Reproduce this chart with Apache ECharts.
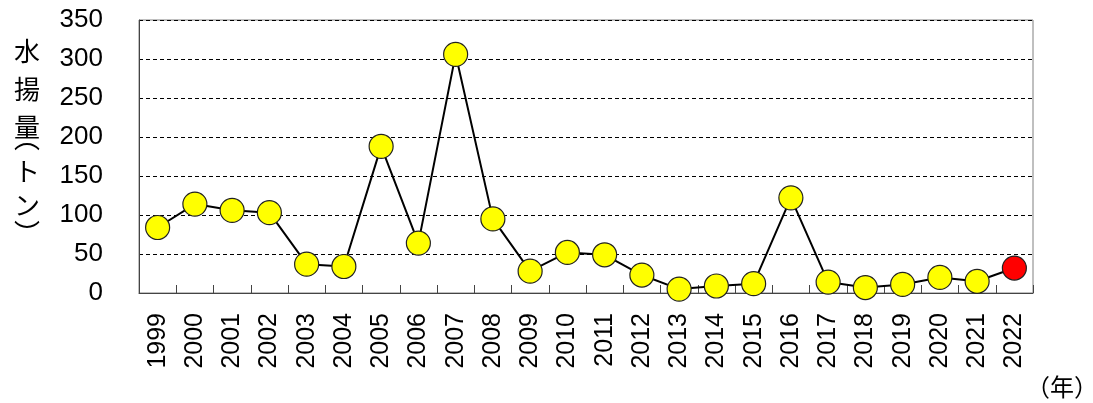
<!DOCTYPE html>
<html>
<head>
<meta charset="utf-8">
<script src="https://cdn.jsdelivr.net/npm/echarts@6/dist/echarts.min.js"></script>
<style>
  html, body { margin: 0; padding: 0; background: #fff; }
  #main { width: 1093px; height: 403px; }
</style>
</head>
<body>
<div id="main"></div>
<script>
// 年別の水揚量（トン）
var years = ['1999', '2000', '2001', '2002', '2003', '2004', '2005', '2006', '2007', '2008',
  '2009', '2010', '2011', '2012', '2013', '2014', '2015', '2016', '2017', '2018',
  '2019', '2020', '2021', '2022'];
var catch_t = [84, 114, 106, 103, 37, 34, 188, 64, 306, 95,
  28, 52, 49, 23, 5, 9, 12, 122, 14, 7,
  11, 20, 15, 32];
var yTicks = [0, 50, 100, 150, 200, 250, 300, 350];
var yName = ['水', '揚', '量', '︵', 'ト', 'ン', '︶'];

var font = '"Liberation Sans", Arial, "Noto Sans CJK JP", sans-serif';
var cjk = '"Noto Sans CJK JP", sans-serif';
var last = years.length - 1;

var myChart = echarts.init(document.getElementById('main'));

// 縦書きの軸名（縦書き用の括弧はグリフが上下にずれているので補正）
var nameY = [51, 89, 127, 138, 171, 205, 233];
var nameTexts = yName.map(function (ch, i) {
  return {
    type: 'text',
    x: 27,
    y: nameY[i],
    style: {
      text: ch, font: '26px ' + cjk, fill: '#000',
      align: 'center', verticalAlign: 'middle'
    }
  };
});

myChart.setOption({
  animation: false,
  grid: {
    left: 139, right: 60, top: 20, bottom: 110,
    show: true, borderColor: '#808080', borderWidth: 1
  },
  xAxis: {
    type: 'category',
    data: years,
    boundaryGap: true,
    axisLine: { lineStyle: { color: '#444', width: 1 } },
    axisTick: { show: true, inside: true, length: 8, lineStyle: { color: '#444' } },
    axisLabel: {
      rotate: 90, color: '#000', fontSize: 25, fontFamily: font, margin: 20
    },
    splitLine: { show: false }
  },
  yAxis: {
    type: 'value',
    min: 0, max: 350, interval: 50,
    axisLine: { show: true, lineStyle: { color: '#444', width: 1 } },
    axisTick: { show: false },
    axisLabel: {
      color: '#000', fontSize: 26, fontFamily: font, margin: 36,
      formatter: function (v) { return yTicks.indexOf(v) >= 0 ? String(v) : ''; }
    },
    splitLine: { show: true, lineStyle: { color: '#000', type: [4, 3], width: 1 } }
  },
  graphic: nameTexts.concat([{
    type: 'text',
    x: 1062,
    y: 387,
    style: {
      text: '（年）', font: '24px ' + cjk, fill: '#000',
      align: 'center', verticalAlign: 'middle'
    }
  }]),
  series: [{
    type: 'line',
    data: catch_t.map(function (v, i) {
      return i === last
        ? { value: v, itemStyle: { color: '#ff0000' } }
        : v;
    }),
    symbol: 'circle',
    symbolSize: 24,
    lineStyle: { color: '#000', width: 2 },
    itemStyle: { color: '#ffff00', borderColor: '#222', borderWidth: 1.2 },
    z: 3
  }]
});
</script>
</body>
</html>
